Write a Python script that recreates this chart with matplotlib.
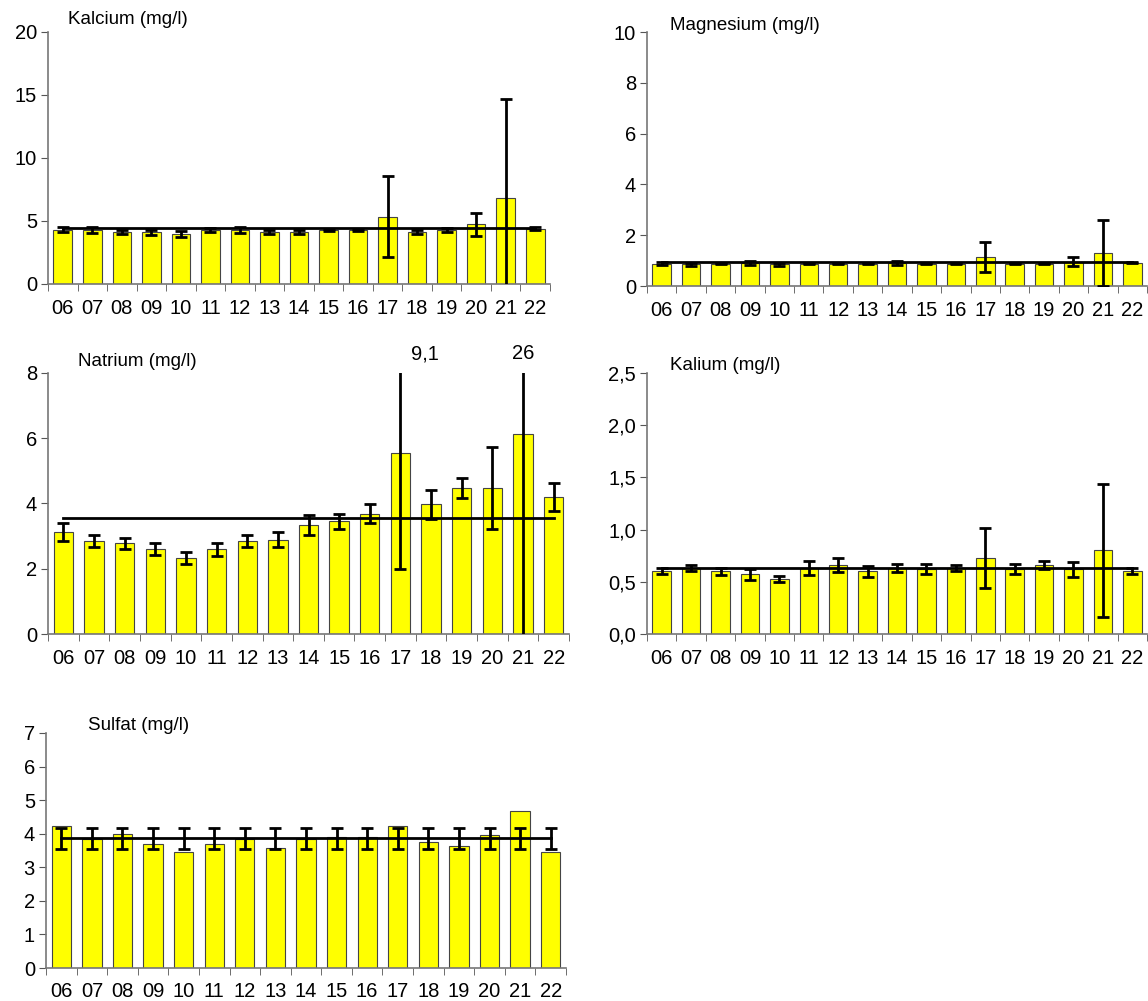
import numpy as np
import matplotlib
matplotlib.use("Agg")
import matplotlib.pyplot as plt

plt.rcParams['font.family'] = ['Liberation Sans', 'DejaVu Sans']

years = ['06', '07', '08', '09', '10', '11', '12', '13', '14', '15', '16', '17', '18', '19', '20', '21', '22']

# Kalcium
ca_val = [4.3, 4.3, 4.1, 4.1, 3.95, 4.3, 4.3, 4.1, 4.1, 4.3, 4.3, 5.35, 4.1, 4.3, 4.73, 6.8, 4.4]
ca_err = [0.2, 0.25, 0.15, 0.2, 0.25, 0.15, 0.25, 0.15, 0.15, 0.1, 0.1, 3.2, 0.15, 0.15, 0.9, 7.9, 0.15]
ca_mean = 4.43

# Magnesium
mg_val = [0.88, 0.85, 0.88, 0.92, 0.85, 0.88, 0.88, 0.88, 0.92, 0.88, 0.88, 1.15, 0.88, 0.88, 0.95, 1.31, 0.92]
mg_err = [0.05, 0.07, 0.03, 0.08, 0.07, 0.03, 0.03, 0.03, 0.08, 0.03, 0.03, 0.6, 0.03, 0.03, 0.18, 1.3, 0.03]
mg_mean = 0.93

# Natrium
na_val = [3.12, 2.84, 2.78, 2.6, 2.33, 2.6, 2.84, 2.89, 3.34, 3.46, 3.69, 5.55, 3.97, 4.47, 4.47, 6.12, 4.2]
na_err = [0.28, 0.18, 0.17, 0.18, 0.18, 0.2, 0.18, 0.23, 0.31, 0.23, 0.28, 3.57, 0.44, 0.3, 1.25, 19.9, 0.43]
na_mean = 3.57

# Kalium
k_val = [0.6, 0.63, 0.6, 0.57, 0.53, 0.63, 0.66, 0.6, 0.635, 0.62, 0.63, 0.73, 0.62, 0.66, 0.62, 0.8, 0.6]
k_err = [0.03, 0.03, 0.035, 0.05, 0.03, 0.065, 0.065, 0.055, 0.04, 0.05, 0.03, 0.29, 0.05, 0.035, 0.07, 0.635, 0.03]
k_mean = 0.635

# Sulfat (error bars sit on the mean line)
so4_val = [4.23, 3.85, 4.0, 3.69, 3.47, 3.69, 3.85, 3.58, 3.85, 3.9, 3.9, 4.23, 3.74, 3.63, 3.96, 4.68, 3.47]
so4_mean = 3.86
so4_err = 0.31

W, H = 1148, 1001
fig = plt.figure(figsize=(W / 100, H / 100), dpi=100)


def px_axes(l, t, r, b):
    return fig.add_axes([l / W, 1 - b / H, (r - l) / W, (b - t) / H])


def style(ax, ymax, yticks, ylabels, xpad=11):
    x = np.arange(len(years))
    ax.set_xlim(-0.5, len(years) - 0.5)
    ax.set_ylim(0, ymax)
    ax.set_xticks(x)
    ax.set_xticklabels(years)
    ax.set_xticks(np.arange(-0.5, len(years)), minor=True)
    ax.tick_params(axis='x', which='major', length=0, pad=xpad, labelsize=14.5)
    ax.tick_params(axis='x', which='minor', length=5, color='#555555', direction='out')
    ax.set_yticks(yticks)
    ax.set_yticklabels(ylabels)
    ax.tick_params(axis='y', length=5, color='#555555', direction='out', labelsize=14.5, pad=3)
    for s in ['top', 'right']:
        ax.spines[s].set_visible(False)
    for s in ['left', 'bottom']:
        ax.spines[s].set_color('#777777')
        ax.spines[s].set_linewidth(1.2)


def panel(ax, vals, errs, mean, centers=None):
    x = np.arange(len(years))
    ax.bar(x, vals, width=0.63, color='#ffff00', edgecolor='#444444', linewidth=0.8, zorder=2)
    ax.plot([x[0], x[-1]], [mean, mean], color='black', lw=2, zorder=3)
    yc = vals if centers is None else centers
    ax.errorbar(x, yc, yerr=errs, fmt='none', ecolor='black', elinewidth=2,
                capsize=4.5, capthick=2, zorder=4)


ax1 = px_axes(48, 32, 550, 284)
panel(ax1, ca_val, ca_err, ca_mean)
style(ax1, 20, [0, 5, 10, 15, 20], ['0', '5', '10', '15', '20'])

ax2 = px_axes(647, 32, 1147, 286)
panel(ax2, mg_val, mg_err, mg_mean)
style(ax2, 10, [0, 2, 4, 6, 8, 10], ['0', '2', '4', '6', '8', '10'])

ax3 = px_axes(48, 373, 569, 634)
panel(ax3, na_val, na_err, na_mean)
style(ax3, 8, [0, 2, 4, 6, 8], ['0', '2', '4', '6', '8'])
ax3.text(11.8, 8.3, '9,1', ha='center', va='bottom', fontsize=14.5)
ax3.text(15.0, 8.3, '26', ha='center', va='bottom', fontsize=14.5)

ax4 = px_axes(647, 373, 1147, 634)
panel(ax4, k_val, k_err, k_mean)
style(ax4, 2.5, [0, 0.5, 1.0, 1.5, 2.0, 2.5], ['0,0', '0,5', '1,0', '1,5', '2,0', '2,5'])

ax5 = px_axes(46, 733, 566, 968)
panel(ax5, so4_val, so4_err, so4_mean, centers=[so4_mean] * len(years))
style(ax5, 7, [0, 1, 2, 3, 4, 5, 6, 7], ['0', '1', '2', '3', '4', '5', '6', '7'], xpad=10)

titles = [('Kalcium (mg/l)', 68, 20), ('Magnesium (mg/l)', 670, 25),
          ('Natrium (mg/l)', 78, 362), ('Kalium (mg/l)', 670, 366),
          ('Sulfat (mg/l)', 88, 726)]
for t, x, y in titles:
    fig.text(x / W, 1 - y / H, t, ha='left', va='center', fontsize=13.5)

fig.savefig('out.png', dpi=100)
